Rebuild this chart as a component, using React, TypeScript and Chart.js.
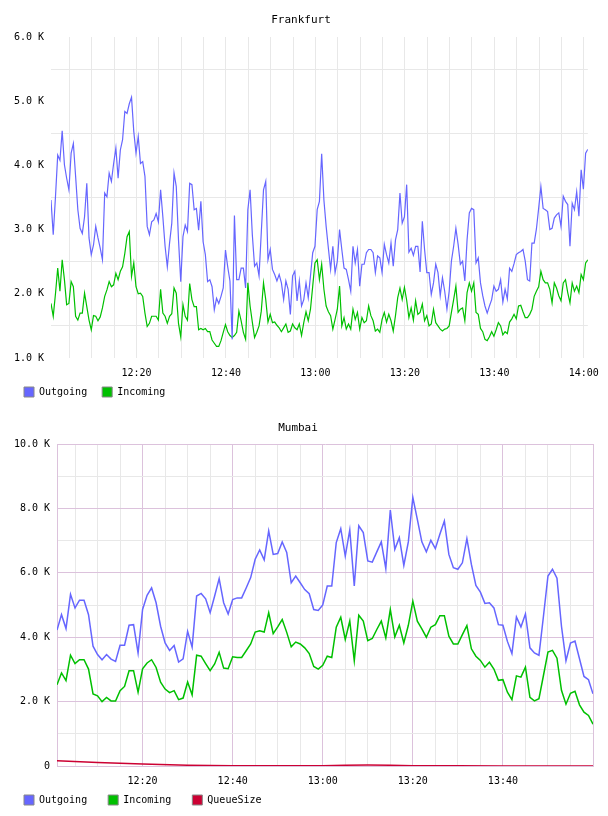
import { useEffect, useRef } from "react";
import { Chart, registerables } from "chart.js";

Chart.register(...registerables);

const MONO = "'DejaVu Sans Mono', monospace";

// Frankfurt traffic, in thousands, sampled every 30 s from 12:00:54
const frankfurtStartMinute = 0.9;
const frankfurtStepMinutes = 0.5;
const frankfurtOutgoing = [
  3.46, 2.92, 3.51, 4.16, 4.08, 4.54, 4.01, 3.8, 3.62, 4.19,
  4.34, 3.83, 3.31, 3.02, 2.94, 3.2, 3.72, 2.87, 2.61, 2.76,
  3.05, 2.87, 2.71, 2.53, 3.57, 3.51, 3.88, 3.75, 4.03, 4.27,
  3.8, 4.24, 4.4, 4.84, 4.81, 4.96, 5.06, 4.53, 4.19, 4.45,
  4.03, 4.06, 3.83, 3.05, 2.92, 3.12, 3.15, 3.25, 3.12, 3.62,
  3.2, 2.74, 2.42, 2.79, 3.1, 3.88, 3.67, 2.84, 2.19, 2.89,
  3.07, 2.97, 3.72, 3.7, 3.31, 3.33, 2.99, 3.44, 2.81, 2.61,
  2.19, 2.22, 2.11, 1.75, 1.93, 1.85, 1.96, 2.09, 2.68, 2.42,
  2.2, 1.29, 3.22, 2.22, 2.22, 2.4, 2.4, 2.09, 3.31, 3.62,
  2.92, 2.43, 2.48, 2.28, 2.95, 3.62, 3.75, 2.53, 2.69, 2.38,
  2.3, 2.2, 2.3, 2.17, 1.91, 2.2, 2.07, 1.68, 2.28, 2.35,
  1.89, 2.2, 1.81, 1.91, 2.17, 1.94, 2.28, 2.64, 2.74, 3.31,
  3.44, 4.18, 3.46, 3.05, 2.71, 2.38, 2.74, 2.33, 2.51, 3.0,
  2.69, 2.4, 2.38, 2.22, 2.04, 2.74, 2.48, 2.69, 2.12, 2.46,
  2.46, 2.64, 2.69, 2.69, 2.64, 2.33, 2.59, 2.56, 2.33, 2.77,
  2.61, 2.48, 2.79, 2.43, 2.84, 3.0, 3.57, 3.1, 3.2, 3.7,
  2.65, 2.71, 2.6, 2.74, 2.74, 2.34, 3.13, 2.69, 2.33, 2.33,
  1.99, 2.17, 2.46, 2.33, 1.97, 2.25, 2.04, 1.76, 2.04, 2.51,
  2.74, 3.02, 2.77, 2.46, 2.51, 2.2, 2.84, 3.26, 3.33, 3.31,
  2.48, 2.56, 2.17, 1.97, 1.81, 1.7, 1.81, 1.91, 2.12, 2.04,
  2.07, 2.22, 1.87, 2.07, 1.92, 2.4, 2.35, 2.47, 2.61, 2.64,
  2.66, 2.69, 2.51, 2.22, 2.2, 2.79, 2.79, 3.01, 3.33, 3.67,
  3.33, 3.31, 3.28, 3.0, 3.02, 3.18, 3.23, 3.26, 3.05, 3.52,
  3.44, 3.39, 2.74, 3.41, 3.31, 3.59, 3.21, 3.93, 3.63, 4.19,
  4.25,
];
const frankfurtIncoming = [
  1.85, 1.65, 2.0, 2.4, 2.04, 2.53, 2.22, 1.83, 1.85, 2.19,
  2.11, 1.65, 1.59, 1.7, 1.7, 2.01, 1.8, 1.59, 1.44, 1.66,
  1.65, 1.58, 1.64, 1.78, 1.96, 2.06, 2.19, 2.11, 2.14, 2.32,
  2.22, 2.35, 2.42, 2.63, 2.89, 2.97, 2.27, 2.48, 2.11, 2.0,
  2.01, 1.96, 1.7, 1.49, 1.54, 1.65, 1.65, 1.65, 1.59, 2.07,
  1.7, 1.65, 1.54, 1.65, 1.69, 2.09, 2.01, 1.54, 1.33, 1.83,
  1.65, 1.59, 2.16, 1.91, 1.8, 1.8, 1.44, 1.46, 1.44, 1.46,
  1.41, 1.41, 1.28, 1.23, 1.18, 1.18, 1.27, 1.4, 1.52, 1.41,
  1.35, 1.32, 1.35, 1.4, 1.73, 1.58, 1.4, 1.29, 2.17, 1.81,
  1.56, 1.32, 1.4, 1.5, 1.73, 2.17, 1.91, 1.56, 1.68, 1.55,
  1.56, 1.51, 1.47, 1.41, 1.47, 1.53, 1.4, 1.42, 1.53, 1.47,
  1.44, 1.53, 1.35, 1.55, 1.72, 1.58, 1.76, 2.12, 2.48, 2.53,
  2.22, 2.46, 2.07, 1.81, 1.72, 1.66, 1.45, 1.6, 1.76, 2.12,
  1.5, 1.63, 1.45, 1.53, 1.45, 1.76, 1.6, 1.71, 1.45, 1.63,
  1.55, 1.58, 1.81, 1.66, 1.58, 1.42, 1.45, 1.4, 1.6, 1.71,
  1.56, 1.68, 1.58, 1.42, 1.66, 1.94, 2.09, 1.91, 2.1, 1.9,
  1.63, 1.78, 1.59, 1.89, 1.68, 1.71, 1.84, 1.58, 1.66, 1.5,
  1.53, 1.76, 1.55, 1.5, 1.45, 1.42, 1.45, 1.46, 1.5, 1.71,
  1.91, 2.12, 1.71, 1.76, 1.78, 1.58, 2.02, 2.17, 2.04, 2.17,
  1.71, 1.68, 1.46, 1.41, 1.29, 1.27, 1.33, 1.41, 1.34, 1.44,
  1.55, 1.5, 1.36, 1.41, 1.38, 1.56, 1.61, 1.68, 1.61, 1.81,
  1.82, 1.72, 1.63, 1.63, 1.68, 1.76, 1.96, 2.04, 2.11, 2.35,
  2.22, 2.17, 2.17, 2.07, 1.86, 2.17, 2.09, 1.97, 1.89, 2.17,
  2.22, 2.02, 1.86, 2.17, 2.04, 2.12, 2.02, 2.3, 2.22, 2.48,
  2.53,
];

// Mumbai traffic, in thousands, one sample per minute from 12:01
const mumbaiStartMinute = 1;
const mumbaiStepMinutes = 1;
const mumbaiOutgoing = [
  4.22, 4.7, 4.27, 5.33, 4.91, 5.15, 5.15, 4.7, 3.72, 3.46,
  3.3, 3.46, 3.32, 3.25, 3.75, 3.75, 4.37, 4.39, 3.51, 4.86,
  5.3, 5.53, 5.07, 4.34, 3.82, 3.59, 3.74, 3.23, 3.33, 4.18,
  3.69, 5.28, 5.36, 5.19, 4.76, 5.28, 5.82, 5.07, 4.72, 5.17,
  5.22, 5.22, 5.53, 5.85, 6.42, 6.71, 6.4, 7.3, 6.57, 6.6,
  6.96, 6.63, 5.69, 5.9, 5.69, 5.48, 5.35, 4.86, 4.83, 5.0,
  5.59, 5.59, 6.94, 7.37, 6.52, 7.33, 5.59, 7.46, 7.25, 6.37,
  6.33, 6.65, 6.96, 6.13, 7.95, 6.73, 7.09, 6.23, 6.96, 8.34,
  7.66, 6.96, 6.65, 7.01, 6.75, 7.2, 7.61, 6.57, 6.16, 6.11,
  6.31, 7.06, 6.26, 5.61, 5.4, 5.05, 5.07, 4.91, 4.39, 4.37,
  3.87, 3.49, 4.63, 4.32, 4.72, 3.67, 3.51, 3.44, 4.65, 5.9,
  6.11, 5.83, 4.34, 3.27, 3.82, 3.88, 3.33, 2.78, 2.68, 2.24,
];
const mumbaiIncoming = [
  2.52, 2.89, 2.65, 3.44, 3.18, 3.3, 3.3, 3.01, 2.24, 2.18,
  2.0, 2.13, 2.02, 2.02, 2.34, 2.47, 2.96, 2.96, 2.29, 3.02,
  3.2, 3.3, 3.06, 2.6, 2.39, 2.28, 2.34, 2.06, 2.11, 2.61,
  2.21, 3.44, 3.41, 3.18, 2.96, 3.17, 3.53, 3.04, 3.02, 3.39,
  3.37, 3.37, 3.58, 3.79, 4.16, 4.2, 4.16, 4.76, 4.11, 4.32,
  4.55, 4.15, 3.7, 3.85, 3.79, 3.67, 3.49, 3.09, 3.01, 3.13,
  3.41, 3.37, 4.31, 4.62, 3.93, 4.5, 3.27, 4.68, 4.5, 3.89,
  3.96, 4.24, 4.5, 3.98, 4.86, 4.01, 4.37, 3.82, 4.37, 5.12,
  4.5, 4.26, 4.0, 4.31, 4.39, 4.67, 4.67, 4.03, 3.79, 3.79,
  4.08, 4.36, 3.64, 3.41, 3.28, 3.07, 3.22, 3.01, 2.66, 2.68,
  2.29, 2.06, 2.8, 2.76, 3.07, 2.13, 2.02, 2.09, 2.81, 3.54,
  3.59, 3.35, 2.35, 1.92, 2.26, 2.32, 1.9, 1.67, 1.57, 1.3,
];
const mumbaiQueueMinutes = [1, 10, 20, 30, 40, 50, 60, 65, 70, 75, 80, 90, 100, 110, 120];
const mumbaiQueueSize = [0.16, 0.11, 0.06, 0.025, 0.01, 0.005, 0.01, 0.025, 0.03, 0.025, 0.01, 0.005, 0.003, 0.002, 0.002];

// Time axis: grid every 5 minutes, labels every 20 minutes (minutes after 12:00)
const gridStepMinutes = 5;
const gridLastMinute = 120;
const labelMinutes = [20, 40, 60, 80, 100, 120];
const labelTexts = ["12:20", "12:40", "13:00", "13:20", "13:40", "14:00"];

const BLUE = "#6666ff";
const GREEN = "#00c000";
const RED = "#cc0033";
const GRID = "#e8e8e8";
const PINK = "#dcc2dc";

function timesFrom(start: number, step: number, n: number) {
  return Array.from({ length: n }, (_, i) => start + i * step);
}

function series(label: string, color: string, xs: number[], ys: number[], width: number) {
  return {
    label,
    data: ys.map((y, i) => ({ x: xs[i], y })),
    borderColor: color,
    backgroundColor: color,
    borderWidth: width,
    pointRadius: 0,
    pointHoverRadius: 0,
    tension: 0,
    fill: false,
  };
}

function timeLabel(v: number, shown: number[]) {
  const i = labelMinutes.indexOf(v);
  return i >= 0 && shown.includes(v) ? labelTexts[i] : "";
}

function gridTicks() {
  const ticks: { value: number }[] = [];
  for (let m = gridStepMinutes; m <= gridLastMinute; m += gridStepMinutes) ticks.push({ value: m });
  return ticks;
}

const tickFont = { family: MONO, size: 10 };

// Keeps the legend row at a fixed height under the time axis.
function legendRow(centerY: number) {
  return {
    id: "legendRow",
    afterLayout(chart: any) {
      const lg = chart.legend;
      if (!lg) return;
      const p = lg.options.labels.padding;
      const top = centerY - p - 5;
      lg.top = top;
      lg.bottom = centerY + 12;
      lg.height = lg.bottom - lg.top;
    },
  };
}

function legendOptions(padding: number) {
  return {
    position: "bottom" as const,
    align: "start" as const,
    maxHeight: 27,
    labels: {
      boxWidth: 10,
      boxHeight: 10,
      padding,
      color: "#000",
      font: { family: MONO, size: 10 },
      generateLabels: (chart: any) =>
        Chart.defaults.plugins.legend.labels
          .generateLabels(chart)
          .map((l: any) => ({ ...l, strokeStyle: "#888", lineWidth: 1 })),
    },
  };
}

function frankfurtConfig(): any {
  const xs = timesFrom(frankfurtStartMinute, frankfurtStepMinutes, frankfurtOutgoing.length);
  const legendPad = 15;
  return {
    type: "line",
    data: {
      datasets: [
        series("Outgoing", BLUE, xs, frankfurtOutgoing, 1.2),
        series("Incoming", GREEN, xs, frankfurtIncoming, 1.2),
      ],
    },
    plugins: [legendRow(392)],
    options: {
      animation: false,
      responsive: false,
      events: [],
      layout: { padding: { left: 24 - legendPad, right: 15, top: 0, bottom: 1 } },
      plugins: {
        title: {
          display: true,
          text: "Frankfurt",
          color: "#000",
          font: { family: MONO, size: 11, weight: "normal", lineHeight: 1.2 },
          padding: { top: 13.4, bottom: 10.4 },
        },
        legend: legendOptions(legendPad),
        tooltip: { enabled: false },
      },
      scales: {
        x: {
          type: "linear",
          min: frankfurtStartMinute,
          max: frankfurtStartMinute + 120,
          afterBuildTicks: (s: any) => { s.ticks = gridTicks(); },
          afterFit: (s: any) => { s.height = 22; },
          grid: { color: GRID, drawTicks: false, lineWidth: 1 },
          border: { display: false },
          ticks: {
            autoSkip: false, maxRotation: 0, padding: 9, color: "#000", font: tickFont,
            callback: (v: number) => timeLabel(v, labelMinutes),
          },
        },
        y: {
          min: 1,
          max: 6,
          afterFit: (s: any) => { s.width = 51 - (24 - legendPad); },
          grid: {
            drawTicks: false,
            lineWidth: 1,
            color: (c: any) => (c.tick && c.tick.value % 1 === 0 ? "rgba(0,0,0,0)" : GRID),
          },
          border: { display: false },
          ticks: {
            stepSize: 0.5, autoSkip: false, padding: 7, color: "#000", font: tickFont,
            callback: (v: number) => (v % 1 === 0 ? `${v.toFixed(1)} K` : ""),
          },
        },
      },
    },
  };
}

function mumbaiConfig(): any {
  const xs = timesFrom(mumbaiStartMinute, mumbaiStepMinutes, mumbaiOutgoing.length);
  const legendPad = 21;
  return {
    type: "line",
    data: {
      datasets: [
        series("Outgoing", BLUE, xs, mumbaiOutgoing, 1.5),
        series("Incoming", GREEN, xs, mumbaiIncoming, 1.5),
        series("QueueSize", RED, mumbaiQueueMinutes, mumbaiQueueSize, 1.5),
      ],
    },
    plugins: [legendRow(392)],
    options: {
      animation: false,
      responsive: false,
      events: [],
      layout: { padding: { left: 24 - legendPad, right: 15, top: 0, bottom: 1 } },
      plugins: {
        title: {
          display: true,
          text: "Mumbai",
          color: "#000",
          font: { family: MONO, size: 11, weight: "normal", lineHeight: 1.2 },
          padding: { top: 13.7, bottom: 9.1 },
        },
        legend: legendOptions(legendPad),
        tooltip: { enabled: false },
      },
      scales: {
        x: {
          type: "linear",
          min: mumbaiStartMinute,
          max: 120,
          afterBuildTicks: (s: any) => { s.ticks = gridTicks(); },
          afterFit: (s: any) => { s.height = 22; },
          grid: {
            drawTicks: false,
            lineWidth: 1,
            color: (c: any) => (c.tick && c.tick.value % 20 === 0 ? PINK : GRID),
          },
          border: { display: true, color: PINK, width: 1 },
          ticks: {
            autoSkip: false, maxRotation: 0, padding: 9, color: "#000", font: tickFont,
            callback: (v: number) => timeLabel(v, [20, 40, 60, 80, 100]),
          },
        },
        y: {
          min: 0,
          max: 10,
          afterFit: (s: any) => { s.width = 57 - (24 - legendPad); },
          grid: {
            drawTicks: false,
            lineWidth: 1,
            color: (c: any) => (c.tick && c.tick.value % 2 === 0 ? PINK : GRID),
          },
          border: { display: true, color: PINK, width: 1 },
          ticks: {
            stepSize: 1, autoSkip: false, padding: 7, color: "#000", font: tickFont,
            callback: (v: number) => (v === 0 ? "0" : v % 2 === 0 ? `${v.toFixed(1)} K` : ""),
          },
        },
      },
    },
  };
}

function ChartCanvas({ build, width, height }: { build: () => any; width: number; height: number }) {
  const ref = useRef<HTMLCanvasElement | null>(null);
  useEffect(() => {
    if (!ref.current) return;
    const chart = new Chart(ref.current, build());
    return () => chart.destroy();
  }, [build]);
  return <canvas ref={ref} width={width} height={height} style={{ display: "block", width, height }} />;
}

export default function App() {
  return (
    <div style={{ position: "absolute", left: 0, top: 0, width: 608, height: 816, background: "#fff" }}>
      <ChartCanvas build={frankfurtConfig} width={608} height={408} />
      <ChartCanvas build={mumbaiConfig} width={608} height={408} />
    </div>
  );
}
